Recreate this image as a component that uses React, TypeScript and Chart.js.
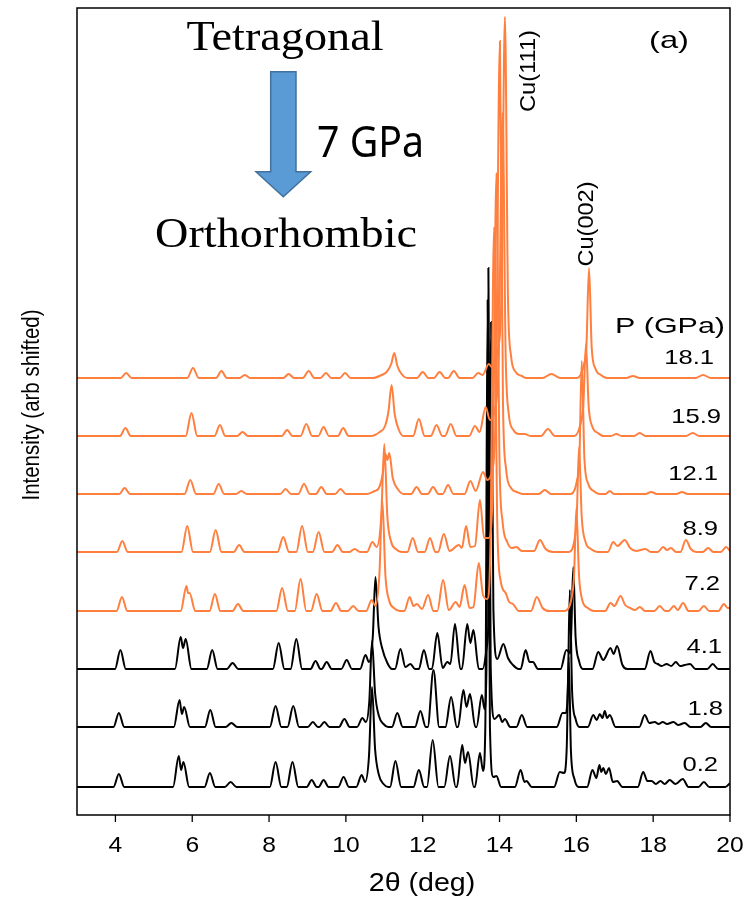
import React, { useEffect, useRef } from "react";
import { Chart, registerables } from "chart.js";

Chart.register(...registerables);

// ---- Data (2θ in degrees, intensity in arbitrary units relative to each baseline) ----
const xTicks = [4, 6, 8, 10, 12, 14, 16, 18, 20];
const pressures = ["0.2", "1.8", "4.1", "7.2", "8.9", "12.1", "15.9", "18.1"];
const offsets = [28, 88, 146, 204, 263, 321, 379, 437];

const p02 = [
  [3, 0], [3.95, 0], [4.09, 13], [4.23, 0],
  [5.5, 0], [5.65, 31], [5.71, 17], [5.77, 25], [5.92, 0],
  [6.32, 0], [6.46, 14], [6.6, 0], [6.85, 0], [7.0, 5], [7.15, 0],
  [8.02, 0], [8.17, 25], [8.32, 0], [8.46, 0], [8.61, 25], [8.76, 0],
  [8.98, 0], [9.11, 7], [9.24, 0], [9.29, 0], [9.42, 7], [9.55, 0],
  [9.8, 0], [9.94, 10], [10.08, 0],
  [10.27, 0], [10.41, 12], [10.5, 5], [10.6, 30], [10.68, 100], [10.76, 38], [10.86, 12], [10.98, 3], [11.1, 0],
  [11.15, 0], [11.29, 26], [11.44, 0], [11.76, 0], [11.9, 17], [12.04, 0],
  [12.11, 0], [12.26, 47], [12.41, 0], [12.56, 0], [12.71, 31], [12.86, 0],
  [12.89, 0], [13.03, 42], [13.1, 24], [13.18, 35], [13.33, 0],
  [13.36, 0], [13.49, 34], [13.57, 16], [13.63, 60], [13.69, 487], [13.75, 60], [13.84, 10], [13.92, 11], [14.04, 0],
  [14.4, 0], [14.55, 17], [14.65, 5], [14.7, 6], [14.84, 0],
  [15.42, 0], [15.57, 15], [15.68, 14], [15.75, 40], [15.8, 130], [15.86, 35], [15.95, 8], [16.06, 0],
  [16.28, 0], [16.42, 17], [16.52, 9], [16.6, 22], [16.65, 15], [16.7, 19], [16.77, 13], [16.85, 19], [16.95, 5], [17.06, 6], [17.2, 0],
  [17.6, 0], [17.74, 15], [17.85, 6], [17.96, 6], [18.07, 3], [18.19, 6], [18.3, 3], [18.43, 7], [18.58, 3], [18.77, 8], [18.92, 0],
  [19.18, 0], [19.32, 5], [19.46, 0], [19.88, 0], [20, 4],
];

const p18 = [
  [3, 0], [3.95, 0], [4.09, 14], [4.23, 0],
  [5.52, 0], [5.67, 27], [5.73, 13], [5.79, 20], [5.94, 0],
  [6.33, 0], [6.47, 17], [6.61, 0], [6.87, 0], [7.02, 4], [7.17, 0],
  [8.02, 0], [8.17, 21], [8.32, 0], [8.48, 0], [8.63, 21], [8.78, 0],
  [9.01, 0], [9.14, 5], [9.27, 0], [9.31, 0], [9.44, 5], [9.57, 0],
  [9.82, 0], [9.96, 8], [10.1, 0],
  [10.29, 0], [10.43, 9], [10.52, 5], [10.61, 26], [10.68, 86], [10.76, 34], [10.86, 11], [10.98, 3], [11.1, 0],
  [11.2, 0], [11.34, 14], [11.48, 0], [11.8, 0], [11.94, 16], [12.08, 0],
  [12.13, 0], [12.28, 57], [12.43, 0], [12.59, 0], [12.74, 30], [12.89, 0],
  [12.92, 0], [13.06, 37], [13.14, 20], [13.23, 33], [13.37, 0],
  [13.4, 0], [13.54, 32], [13.61, 18], [13.66, 60], [13.71, 459], [13.77, 60], [13.87, 8], [13.99, 12], [14.07, 5], [14.14, 8], [14.28, 0],
  [14.44, 0], [14.58, 12], [14.72, 0],
  [15.49, 0], [15.64, 14], [15.73, 14], [15.78, 40], [15.83, 137], [15.89, 35], [15.98, 8], [16.08, 0],
  [16.3, 0], [16.44, 12], [16.53, 7], [16.61, 13], [16.68, 9], [16.74, 16], [16.8, 9], [16.87, 12], [17.02, 0],
  [17.64, 0], [17.78, 12], [17.9, 4], [18.04, 5], [18.14, 3], [18.25, 5], [18.36, 3], [18.53, 5], [18.65, 2], [18.82, 4], [18.97, 0],
  [19.23, 0], [19.37, 4], [19.51, 0], [20, 0],
];

const p41 = [
  [3, 0], [3.99, 0], [4.13, 19], [4.27, 0],
  [5.55, 0], [5.7, 32], [5.76, 21], [5.83, 30], [5.98, 0],
  [6.38, 0], [6.52, 19], [6.66, 0], [6.9, 0], [7.05, 6], [7.2, 0],
  [8.1, 0], [8.25, 26], [8.4, 0], [8.56, 0], [8.71, 30], [8.86, 0],
  [9.08, 0], [9.21, 8], [9.34, 0], [9.37, 0], [9.5, 7], [9.63, 0],
  [9.88, 0], [10.02, 9], [10.16, 0],
  [10.37, 0], [10.51, 14], [10.6, 7], [10.7, 32], [10.77, 92], [10.85, 42], [10.95, 20], [11.08, 6], [11.2, 0],
  [11.28, 0], [11.42, 20], [11.55, 2], [11.68, 5], [11.8, 0],
  [11.9, 0], [12.03, 19], [12.17, 0], [12.24, 0], [12.38, 36], [12.52, 1], [12.64, 7], [12.72, 5], [12.84, 45], [12.98, 0],
  [13.02, 0], [13.16, 45], [13.24, 26], [13.32, 39], [13.46, 0],
  [13.56, 0], [13.66, 20], [13.72, 60], [13.78, 347], [13.84, 60], [13.94, 10], [14.1, 25], [14.22, 11], [14.35, 4], [14.5, 0],
  [14.55, 0], [14.68, 19], [14.78, 7], [14.87, 7], [15.0, 0],
  [15.59, 0], [15.74, 19], [15.84, 16], [15.87, 40], [15.92, 102], [15.98, 32], [16.07, 8], [16.17, 0],
  [16.42, 0], [16.57, 17], [16.7, 9], [16.89, 21], [16.97, 15], [17.06, 23], [17.2, 4], [17.32, 0],
  [17.78, 0], [17.93, 18], [18.03, 7], [18.12, 5], [18.22, 3], [18.35, 5], [18.47, 3], [18.59, 7], [18.7, 3], [18.82, 4], [18.96, 5], [19.1, 0],
  [19.41, 0], [19.55, 5], [19.69, 0], [20, 0],
];

const p72 = [
  [3, 0], [4.03, 0], [4.17, 14], [4.31, 0],
  [5.7, 0], [5.85, 25], [5.89, 18], [5.93, 18], [6.08, 0],
  [6.45, 0], [6.59, 17], [6.73, 0], [7.05, 0], [7.19, 7], [7.33, 0],
  [8.19, 0], [8.34, 23], [8.49, 0], [8.67, 0], [8.82, 32], [8.97, 0],
  [9.09, 0], [9.24, 17], [9.39, 0], [9.6, 0], [9.74, 8], [9.88, 0],
  [10.05, 0], [10.19, 5], [10.33, 0],
  [10.53, 0], [10.67, 11], [10.77, 5], [10.87, 35], [10.95, 110], [11.03, 35], [11.13, 10], [11.25, 3], [11.4, 0],
  [11.52, 0], [11.66, 14], [11.76, 5], [11.85, 7], [11.98, 2], [12.14, 16], [12.28, 0],
  [12.38, 0], [12.53, 31], [12.68, 1], [12.86, 9], [12.96, 4], [13.09, 26], [13.22, 3], [13.32, 4],
  [13.46, 48], [13.57, 16], [13.68, 12], [13.76, 60], [13.86, 384], [13.94, 90], [14.03, 30], [14.16, 18], [14.25, 9], [14.35, 7], [14.5, 0],
  [14.82, 0], [14.97, 14], [15.12, 3], [15.3, 0],
  [15.7, 0], [15.88, 14], [15.94, 35], [16.0, 103], [16.07, 35], [16.16, 10], [16.3, 3], [16.45, 0],
  [16.75, 0], [16.89, 8], [16.99, 5], [17.15, 15], [17.27, 6], [17.4, 3], [17.53, 1], [17.65, 4], [17.79, 0],
  [18.03, 0], [18.17, 5], [18.31, 0], [18.4, 0], [18.54, 5], [18.64, 1], [18.78, 8], [18.92, 0],
  [19.18, 0], [19.32, 5], [19.46, 0], [19.7, 0], [19.84, 7], [19.94, 3], [20, 3],
];

const p89 = [
  [3, 0], [4.04, 0], [4.18, 11], [4.32, 0],
  [5.72, 0], [5.87, 26], [6.02, 0], [6.46, 0], [6.61, 22], [6.76, 0],
  [7.08, 0], [7.22, 7], [7.36, 0],
  [8.22, 0], [8.37, 15], [8.52, 0], [8.71, 0], [8.86, 26], [9.01, 0],
  [9.14, 0], [9.29, 20], [9.44, 0], [9.64, 0], [9.78, 7], [9.92, 0],
  [10.09, 0], [10.23, 3], [10.37, 0],
  [10.55, 0], [10.69, 10], [10.8, 5], [10.92, 35], [11.0, 108], [11.08, 35], [11.18, 10], [11.3, 3], [11.45, 0],
  [11.6, 0], [11.74, 14], [11.88, 0], [12.05, 0], [12.19, 14], [12.33, 0],
  [12.4, 0], [12.55, 18], [12.7, 1], [12.94, 7], [13.02, 4], [13.13, 26], [13.24, 5], [13.36, 6],
  [13.49, 52], [13.6, 14], [13.72, 14], [13.82, 60], [13.92, 379], [14.0, 90], [14.08, 30], [14.2, 10], [14.32, 4],
  [14.44, 5], [14.58, 1], [14.9, 1], [15.05, 12], [15.2, 3], [15.4, 0],
  [15.8, 0], [15.96, 14], [16.01, 35], [16.07, 105], [16.14, 35], [16.24, 10], [16.38, 3], [16.55, 0],
  [16.82, 0], [16.96, 10], [17.07, 6], [17.26, 12], [17.4, 4], [17.55, 1], [17.8, 3], [17.94, 0],
  [18.12, 0], [18.26, 5], [18.36, 2], [18.46, 4], [18.6, 0], [18.71, 0], [18.85, 12], [18.98, 3], [19.12, 0],
  [19.29, 0], [19.43, 4], [19.57, 0], [19.76, 0], [19.9, 5], [20, 1],
];

const p121 = [
  [3, 0], [4.1, 0], [4.24, 6], [4.38, 0],
  [5.8, 0], [5.95, 14], [6.1, 0], [6.55, 0], [6.69, 10], [6.83, 0],
  [7.14, 0], [7.28, 3], [7.42, 0],
  [8.29, 0], [8.43, 5], [8.57, 0], [8.76, 0], [8.91, 10], [9.06, 0],
  [9.22, 0], [9.36, 7], [9.5, 0], [9.72, 0], [9.86, 5], [10.0, 0],
  [10.55, 0], [10.75, 3], [10.86, 6], [10.96, 20], [11.03, 40], [11.08, 34], [11.13, 41], [11.22, 16], [11.35, 5], [11.5, 0],
  [11.7, 0], [11.84, 7], [11.98, 0], [12.13, 0], [12.27, 7], [12.41, 0],
  [12.52, 0], [12.66, 9], [12.8, 0],
  [13.09, 0], [13.24, 13], [13.38, 3], [13.57, 22], [13.68, 14], [13.8, 22], [13.9, 80], [14.01, 453], [14.09, 90], [14.17, 25], [14.3, 6], [14.45, 2], [14.6, 0],
  [15.02, 0], [15.18, 4], [15.34, 0],
  [15.85, 0], [16.02, 14], [16.08, 35], [16.14, 133], [16.21, 35], [16.31, 10], [16.45, 3], [16.6, 0],
  [16.76, 0], [16.87, 3], [16.98, 0], [17.8, 0], [17.95, 2], [18.1, 0], [18.6, 0], [18.75, 2], [18.9, 0], [20, 0],
];

const p159 = [
  [3, 0], [4.12, 0], [4.26, 8], [4.4, 0],
  [5.83, 0], [5.98, 23], [6.13, 0], [6.58, 0], [6.72, 11], [6.86, 0],
  [7.17, 0], [7.31, 4], [7.45, 0],
  [8.33, 0], [8.47, 6], [8.61, 0], [8.82, 0], [8.97, 12], [9.12, 0],
  [9.28, 0], [9.42, 9], [9.56, 0], [9.79, 0], [9.93, 8], [10.07, 0],
  [10.65, 0], [10.88, 4], [11.02, 10], [11.11, 25], [11.19, 51], [11.27, 22], [11.37, 7], [11.5, 0],
  [11.75, 0], [11.9, 17], [12.05, 0], [12.21, 0], [12.36, 11], [12.51, 0],
  [12.58, 0], [12.73, 12], [12.88, 0],
  [13.21, 0], [13.36, 10], [13.48, 4], [13.64, 29], [13.75, 16], [13.87, 25], [13.98, 80], [14.08, 323], [14.16, 80], [14.24, 22], [14.36, 6], [14.52, 2], [14.66, 2], [14.8, 0],
  [15.08, 0], [15.26, 7], [15.44, 0],
  [15.95, 0], [16.12, 14], [16.18, 30], [16.25, 92], [16.32, 30], [16.42, 9], [16.56, 3], [16.7, 0],
  [16.9, 0], [17.04, 2], [17.18, 0], [17.5, 0], [17.65, 3], [17.8, 0], [18.85, 0], [19.03, 3], [19.2, 0], [20, 0],
];

const p181 = [
  [3, 0], [4.14, 0], [4.28, 5], [4.42, 0],
  [5.87, 0], [6.02, 10], [6.17, 0], [6.62, 0], [6.76, 7], [6.9, 0],
  [7.23, 0], [7.37, 3], [7.51, 0],
  [8.37, 0], [8.51, 4], [8.65, 0], [8.88, 0], [9.03, 7], [9.18, 0],
  [9.34, 0], [9.48, 5], [9.62, 0], [9.84, 0], [9.98, 5], [10.12, 0],
  [10.7, 0], [10.93, 3], [11.06, 6], [11.18, 14], [11.26, 25], [11.34, 12], [11.45, 4], [11.6, 0],
  [11.85, 0], [12.0, 6], [12.15, 0], [12.29, 0], [12.44, 6], [12.59, 0],
  [12.66, 0], [12.81, 7], [12.96, 0],
  [13.3, 0], [13.44, 5], [13.56, 3], [13.72, 14], [13.82, 10], [13.94, 25], [14.05, 80], [14.14, 361], [14.22, 80], [14.3, 22], [14.42, 6], [14.58, 2], [14.7, 0],
  [15.12, 0], [15.35, 4], [15.58, 0],
  [16.02, 0], [16.2, 14], [16.26, 30], [16.33, 110], [16.4, 30], [16.5, 9], [16.64, 3], [16.8, 0],
  [17.3, 0], [17.47, 2], [17.65, 0], [19.1, 0], [19.3, 3], [19.5, 0], [20, 0],
];

const seriesList = [p02, p18, p41, p72, p89, p121, p159, p181];
const seriesColors = ["#000000", "#000000", "#000000", "#FF7F3F", "#FF7F3F", "#FF7F3F", "#FF7F3F", "#FF7F3F"];

// label anchors (right edge x, centre y)
const labelRight = [718, 723, 722, 720, 718, 718, 721, 714];
const labelY = [765, 709, 647, 584, 529, 474, 417, 358];

function drawText(
  ctx: CanvasRenderingContext2D,
  s: string,
  x: number,
  y: number,
  font: string,
  align: CanvasTextAlign,
  baseline: CanvasTextBaseline,
  opts: { width?: number; sx?: number; rot?: number } = {}
) {
  ctx.save();
  ctx.translate(x, y);
  if (opts.rot) ctx.rotate(opts.rot);
  ctx.font = font;
  ctx.textAlign = align;
  ctx.textBaseline = baseline;
  ctx.fillStyle = "#000";
  let sx = opts.sx ?? 1;
  if (opts.width) {
    const w = ctx.measureText(s).width;
    sx = opts.width / w;
  }
  ctx.scale(sx, 1);
  ctx.fillText(s, 0, 0);
  ctx.restore();
}

const decorPlugin = {
  id: "decor",
  afterDatasetsDraw(chart: any) {
    const ctx: CanvasRenderingContext2D = chart.ctx;
    const a = chart.chartArea;
    const xs = chart.scales.x;
    ctx.save();
    ctx.strokeStyle = "#000";
    ctx.lineWidth = 1.5;
    ctx.strokeRect(a.left, a.top, a.right - a.left, a.bottom - a.top);
    ctx.lineWidth = 1.3;
    for (const t of xTicks) {
      const px = xs.getPixelForValue(t);
      ctx.beginPath();
      ctx.moveTo(px, a.bottom);
      ctx.lineTo(px, a.bottom + 7);
      ctx.stroke();
      drawText(ctx, String(t), px, a.bottom + 31, '22px "Liberation Sans", Arial, sans-serif', "center", "middle", { sx: 1.12 });
    }
    drawText(ctx, "2θ (deg)", 422, 884, '26px "Liberation Sans", Arial, sans-serif', "center", "middle", { sx: 1.1 });
    drawText(ctx, "Intensity (arb shifted)", 33, 405, '23px "Liberation Sans", Arial, sans-serif', "center", "middle", { width: 191, rot: -Math.PI / 2 });

    drawText(ctx, "Tetragonal", 285, 50, '42px "Liberation Serif", "Times New Roman", serif', "center", "alphabetic", { width: 197 });
    drawText(ctx, "Orthorhombic", 286, 247, '42px "Liberation Serif", "Times New Roman", serif', "center", "alphabetic", { width: 262 });
    drawText(ctx, "7 GPa", 317, 157, '43px "Noto Sans", "Open Sans", sans-serif', "left", "alphabetic", { width: 107 });
    drawText(ctx, "(a)", 669, 41, '24px "Liberation Sans", Arial, sans-serif', "center", "middle", { width: 40 });
    drawText(ctx, "Cu(111)", 529, 71, '22px "Liberation Sans", Arial, sans-serif', "center", "middle", { width: 82, rot: -Math.PI / 2 });
    drawText(ctx, "Cu(002)", 587, 224, '22px "Liberation Sans", Arial, sans-serif', "center", "middle", { width: 85, rot: -Math.PI / 2 });
    drawText(ctx, "P (GPa)", 725, 327, '22px "Liberation Sans", Arial, sans-serif', "right", "middle", { width: 110 });
    pressures.forEach((p, i) => {
      drawText(ctx, p, labelRight[i], labelY[i], '21px "Liberation Sans", Arial, sans-serif', "right", "middle", { sx: 1.22 });
    });

    ctx.beginPath();
    ctx.moveTo(270.7, 71.7);
    ctx.lineTo(296, 71.7);
    ctx.lineTo(296, 171.7);
    ctx.lineTo(310.7, 171.7);
    ctx.lineTo(283.3, 196.7);
    ctx.lineTo(256, 171.7);
    ctx.lineTo(270.7, 171.7);
    ctx.closePath();
    ctx.fillStyle = "#5B9BD5";
    ctx.fill();
    ctx.strokeStyle = "#41719C";
    ctx.lineWidth = 1.5;
    ctx.stroke();
    ctx.restore();
  },
};

export default function App() {
  const ref = useRef<HTMLCanvasElement | null>(null);
  useEffect(() => {
    document.body.style.margin = "0";
    const canvas = ref.current;
    if (!canvas) return;
    const order = [3, 4, 5, 6, 7, 0, 1, 2];
    const datasets = order.map((i) => ({
      label: pressures[i] + " GPa",
      data: seriesList[i].map(([x, y]) => ({ x, y: y + offsets[i] })),
      borderColor: seriesColors[i],
      borderWidth: 2,
      pointRadius: 0,
      fill: false,
      cubicInterpolationMode: "monotone" as const,
    }));
    const chart = new Chart(canvas, {
      type: "line",
      data: { datasets },
      options: {
        animation: false,
        responsive: false,
        maintainAspectRatio: false,
        events: [],
        layout: { padding: { left: 77, right: 19, top: 8, bottom: 86 } },
        plugins: { legend: { display: false }, tooltip: { enabled: false } },
        scales: {
          x: { type: "linear", min: 3, max: 20, display: false },
          y: { type: "linear", min: 0, max: 807, display: false },
        },
      },
      plugins: [decorPlugin],
    });
    return () => chart.destroy();
  }, []);
  return (
    <div style={{ width: 749, height: 901, background: "#fff" }}>
      <canvas ref={ref} width={749} height={901} style={{ display: "block", width: 749, height: 901 }} />
    </div>
  );
}
